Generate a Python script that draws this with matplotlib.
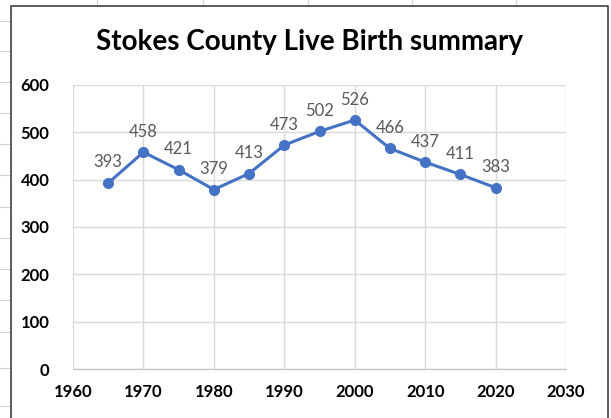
import matplotlib
matplotlib.use("Agg")
import matplotlib.pyplot as plt
from matplotlib.lines import Line2D

years = [1965, 1970, 1975, 1980, 1985, 1990, 1995, 2000, 2005, 2010, 2015, 2020]
births = [393, 458, 421, 379, 413, 473, 502, 526, 466, 437, 411, 383]
x_ticks = [1960, 1970, 1980, 1990, 2000, 2010, 2020, 2030]
y_ticks = [0, 100, 200, 300, 400, 500, 600]
title = "Stokes County Live Birth summary"

W, H = 611, 418
fig = plt.figure(figsize=(W / 100, H / 100), dpi=100)
fig.patch.set_facecolor("white")

def fx(px):
    return px / W

def fy(py):
    return 1 - py / H

# spreadsheet cell lines behind the chart
for yy in [21, 51, 82, 113, 144, 175, 207, 238, 269, 300, 332, 368, 406]:
    fig.add_artist(Line2D([fx(0), fx(11)], [fy(yy), fy(yy)], color="#D4D4D4", lw=0.8))
for xx in [97, 203, 308, 412, 516]:
    fig.add_artist(Line2D([fx(xx), fx(xx)], [fy(0), fy(5)], color="#D4D4D4", lw=0.8))

# chart frame
fig.add_artist(Line2D([fx(11), fx(11), fx(608), fx(608)],
                      [fy(420), fy(5.5), fy(5.5), fy(420)], color="#404040", lw=1.2))

ax = fig.add_axes([fx(73), fy(369), fx(566) - fx(73), fy(85) - fy(369)])
ax.plot(years, births, color="#4472C4", lw=2.2, marker="o", markersize=7,
        markerfacecolor="#4472C4", markeredgecolor="#4472C4", zorder=3)
for x, y in zip(years, births):
    ax.annotate(str(y), (x, y), xytext=(0, 9), textcoords="offset points",
                ha="center", va="bottom", fontsize=12, color="#595959",
                family="Lato")

ax.set_xlim(1960, 2030)
ax.set_ylim(0, 600)
ax.set_xticks(x_ticks)
ax.set_yticks(y_ticks)
ax.set_xticklabels([str(v) for v in x_ticks], fontsize=12, fontweight="bold", family="Lato")
ax.set_yticklabels([str(v) for v in y_ticks], fontsize=12, fontweight="bold", family="Lato")
ax.tick_params(axis="both", length=0, colors="black")
ax.tick_params(axis="x", pad=11)
ax.tick_params(axis="y", pad=17)
ax.grid(True, color="#D9D9D9", lw=1)
for s in ["top", "right", "left"]:
    ax.spines[s].set_visible(False)
ax.spines["bottom"].set_color("#BFBFBF")
ax.set_axisbelow(True)

fig.text(fx(310), fy(42), title, ha="center", va="center", fontsize=20,
         fontweight="bold", family="Lato", color="black")

fig.savefig("out.png", dpi=100)
